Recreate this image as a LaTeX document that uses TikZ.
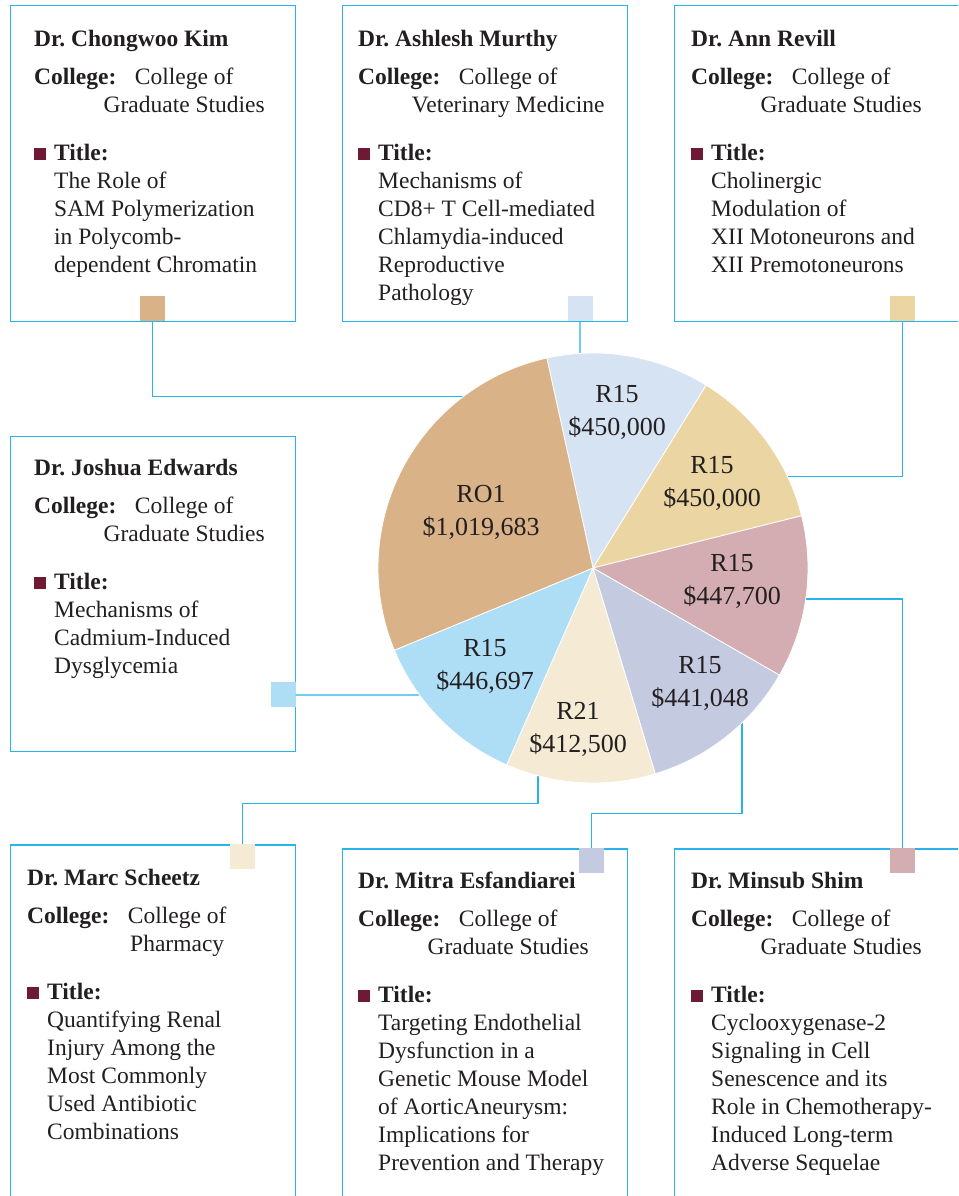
\documentclass[tikz,border=0pt]{standalone}
\usepackage{fontspec}
\setmainfont{Liberation Serif}
\usepackage{tikz}
\usetikzlibrary{positioning,calc}
\frenchspacing

\definecolor{linkblue}{RGB}{38,180,234}
\definecolor{bulletred}{RGB}{110,26,52}
\definecolor{inktext}{RGB}{35,31,32}
\definecolor{pieTan}{RGB}{218,178,136}
\definecolor{pieIce}{RGB}{214,227,242}
\definecolor{pieSand}{RGB}{235,214,163}
\definecolor{pieRose}{RGB}{211,173,178}
\definecolor{pieLilac}{RGB}{196,202,223}
\definecolor{pieCream}{RGB}{245,234,211}
\definecolor{pieSky}{RGB}{174,222,245}

\newcommand{\titlemark}{\textcolor{bulletred}{\rule{12pt}{12pt}}\hspace{8pt}\textbf{Title:}}
\newcommand{\collegeline}[1]{\hspace*{150pt}\makebox[0pt]{#1}}
\newcommand{\collegehead}[1]{\makebox[0pt][l]{\textbf{College:}}\collegeline{#1}}
\newcommand{\topline}{\rule{0pt}{18pt}}

\begin{document}
\begin{tikzpicture}[x=1pt, y=1pt,
    every node/.style={font=\fontsize{23.5}{28}\selectfont, text=inktext},
    card/.style={draw=linkblue, line width=1.4pt, minimum width=285pt, minimum height=316pt, anchor=north west, inner sep=0pt},
    bio/.style={anchor=north west, align=left, inner sep=0pt},
    tag/.style={minimum size=25pt, inner sep=0pt},
    link/.style={draw=linkblue, line width=1.4pt},
    amount/.style={anchor=north, align=center, inner sep=0pt, font=\fontsize{26}{33}\selectfont}]
      \clip (0,0) rectangle (958,1196);
      \fill[white] (0,0) rectangle (958,1196);

      % Cards, top row
      \node[card] (kim) at (10,1191) {};
      \node[card] (murthy) at (342,1191) {};
      \node[card, minimum width=300pt] (revill) at (674,1191) {};

      % Card, left
      \node[card, minimum height=315pt] (edwards) at (10,760) {};

      % Cards, bottom row
      \node[card, minimum height=370pt] (scheetz) at (10,351.7) {};
      \node[card, minimum height=370pt] (esfand) at (342,347.7) {};
      \node[card, minimum width=300pt, minimum height=370pt] (shim) at (674,347.7) {};

      % Card texts (top of each node = first baseline + 18)
      \node[bio] (kimtxt) at (34,1168) {\topline\textbf{Dr. Chongwoo Kim}\\[10pt]
        \collegehead{College of}\\ \collegeline{Graduate Studies}\\[20pt]
        \titlemark\\ \hspace*{20pt}The Role of\\ \hspace*{20pt}SAM Polymerization\\
        \hspace*{20pt}in Polycomb-\\ \hspace*{20pt}dependent Chromatin};
      \node[bio] (murtxt) at (358,1168) {\topline\textbf{Dr. Ashlesh Murthy}\\[10pt]
        \collegehead{College of}\\ \collegeline{Veterinary Medicine}\\[20pt]
        \titlemark\\ \hspace*{20pt}Mechanisms of\\ \hspace*{20pt}CD8+ T Cell-mediated\\
        \hspace*{20pt}Chlamydia-induced\\ \hspace*{20pt}Reproductive\\ \hspace*{20pt}Pathology};
      \node[bio] (revtxt) at (691,1168) {\topline\textbf{Dr. Ann Revill}\\[10pt]
        \collegehead{College of}\\ \collegeline{Graduate Studies}\\[20pt]
        \titlemark\\ \hspace*{20pt}Cholinergic\\ \hspace*{20pt}Modulation of\\
        \hspace*{20pt}XII Motoneurons and\\ \hspace*{20pt}XII Premotoneurons};
      \node[bio] (edwtxt) at (34,739) {\topline\textbf{Dr. Joshua Edwards}\\[10pt]
        \collegehead{College of}\\ \collegeline{Graduate Studies}\\[20pt]
        \titlemark\\ \hspace*{20pt}Mechanisms of\\ \hspace*{20pt}Cadmium-Induced\\
        \hspace*{20pt}Dysglycemia};
      \node[bio] (schtxt) at (27,329) {\topline\textbf{Dr. Marc Scheetz}\\[10pt]
        \collegehead{College of}\\ \collegeline{Pharmacy}\\[20pt]
        \titlemark\\ \hspace*{20pt}Quantifying Renal\\ \hspace*{20pt}Injury Among the\\
        \hspace*{20pt}Most Commonly\\ \hspace*{20pt}Used Antibiotic\\ \hspace*{20pt}Combinations};
      \node[bio] (esftxt) at (358,326) {\topline\textbf{Dr. Mitra Esfandiarei}\\[10pt]
        \collegehead{College of}\\ \collegeline{Graduate Studies}\\[20pt]
        \titlemark\\ \hspace*{20pt}Targeting Endothelial\\ \hspace*{20pt}Dysfunction in a\\
        \hspace*{20pt}Genetic Mouse Model\\ \hspace*{20pt}of AorticAneurysm:\\
        \hspace*{20pt}Implications for\\ \hspace*{20pt}Prevention and Therapy};
      \node[bio] (shimtxt) at (691,326) {\topline\textbf{Dr. Minsub Shim}\\[10pt]
        \collegehead{College of}\\ \collegeline{Graduate Studies}\\[20pt]
        \titlemark\\ \hspace*{20pt}Cyclooxygenase-2\\ \hspace*{20pt}Signaling in Cell\\
        \hspace*{20pt}Senescence and its\\ \hspace*{20pt}Role in Chemotherapy-\\
        \hspace*{20pt}Induced Long-term\\ \hspace*{20pt}Adverse Sequelae};

      % Colour tags on the cards
      \node[tag, fill=pieTan] (kimsq) at (152.5,887) {};
      \node[tag, fill=pieIce] (mursq) at (580,887) {};
      \node[tag, fill=pieSand] (revsq) at (902.5,887) {};
      \node[tag, fill=pieSky] (edwsq) at (283,501) {};
      \node[tag, fill=pieCream] (schsq) at (242.5,339.3) {};
      \node[tag, fill=pieLilac] (esfsq) at (591.5,335.5) {};
      \node[tag, fill=pieRose] (shimsq) at (902.5,335.5) {};

      % Points on the rim
      \coordinate (pc) at (593,628);
      \coordinate (rimkim) at ([shift={(127.2:215pt)}]pc);
      \coordinate (rimmur) at ([shift={(93.47:215pt)}]pc);
      \coordinate (rimrev) at ([shift={(25.1:215pt)}]pc);
      \coordinate (rimedw) at ([shift={(216.2:215pt)}]pc);
      \coordinate (rimsch) at ([shift={(255.2:215pt)}]pc);
      \coordinate (rimesf) at ([shift={(-46.2:215pt)}]pc);
      \coordinate (rimshim) at ([shift={(-8.3:215pt)}]pc);

      % Links
      \draw[link] (kimsq.south) |- (rimkim);
      \draw[link] (mursq.south) -- (rimmur);
      \draw[link] (revsq.south) |- (rimrev);
      \draw[link] (edwsq.east) -- (rimedw);
      \draw[link] (schsq.north) -- ++(0,40.3) -| (rimsch);
      \draw[link] (esfsq.north) -- ++(0,34.5) -| (rimesf);
      \draw[link] (shimsq.north) |- (rimshim);

      % Pie
      \foreach \from/\to/\tint in {102.4/58.23/pieIce, 58.23/14.06/pieSand, 14.06/-29.89/pieRose,
          -29.89/-73.18/pieLilac, -73.18/-113.67/pieCream, -113.67/-157.51/pieSky, -157.51/-257.6/pieTan}
        \filldraw[fill=\tint, draw=white, line width=0.8pt] (pc) -- ++(\from:215pt)
          arc[start angle=\from, end angle=\to, radius=215pt] -- cycle;

      % Amounts (top of node = first baseline + 20)
      \node[amount] (ro1) at (481,714) {\rule{0pt}{20pt}RO1\\\$1,019,683};
      \node[amount] (amur) at (617,814) {\rule{0pt}{20pt}R15\\\$450,000};
      \node[amount] (arev) at (712,743) {\rule{0pt}{20pt}R15\\\$450,000};
      \node[amount] (ashim) at (732,645) {\rule{0pt}{20pt}R15\\\$447,700};
      \node[amount] (aesf) at (700,543) {\rule{0pt}{20pt}R15\\\$441,048};
      \node[amount] (asch) at (578,497) {\rule{0pt}{20pt}R21\\\$412,500};
      \node[amount] (aedw) at (485,560) {\rule{0pt}{20pt}R15\\\$446,697};
    \end{tikzpicture}
\end{document}
